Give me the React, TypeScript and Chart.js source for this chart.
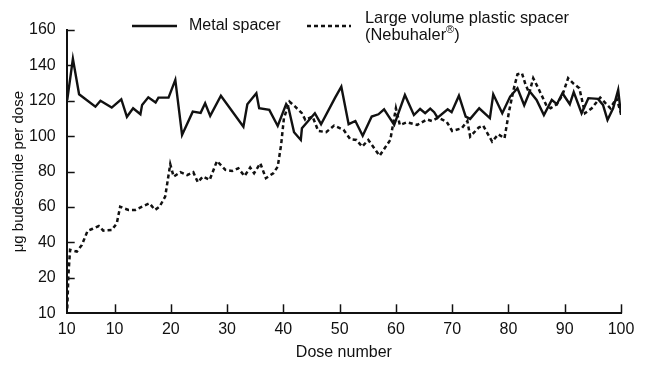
import { useEffect, useRef } from 'react';
import { Chart, registerables } from 'chart.js';

Chart.register(...registerables);

const FONT = "'Liberation Sans', Arial, Helvetica, sans-serif";
const INK = '#111111';

// Metal spacer: dose number and delivered budesonide (µg)
const metalDoses = [1.6, 2.6, 3.7, 6.6, 7.5, 9.5, 11.2, 12.2, 13.3, 14.6, 14.9, 16, 17.3, 17.8, 19.6, 20.8, 22, 23.9, 25.3, 26.1, 27, 28.9, 32.9, 33.6, 35.2, 35.7, 37.5, 39, 40.5, 40.9, 41.9, 43.1, 43.3, 45.6, 46.7, 49.2, 50.3, 51.6, 52.8, 54.1, 55.7, 56.9, 57.9, 59.7, 61.6, 63.2, 64.3, 65.2, 66.1, 66.8, 67.4, 69.2, 69.9, 71.2, 72.4, 73.2, 74.8, 76.7, 77.3, 78.9, 80.3, 81.6, 82.8, 83.8, 85, 86.3, 87.7, 88.6, 89.6, 90.9, 91.6, 93, 94.2, 95.9, 96.8, 97.6, 98.6, 99.5, 100];
const metalValues = [120.5, 143.7, 123.7, 116.7, 120, 116.2, 120.9, 111, 115.8, 112.4, 117.7, 122, 119, 121.8, 121.8, 131.8, 100.7, 113.9, 113.2, 118.6, 111.5, 122.9, 105.4, 118.1, 124.3, 115.8, 114.9, 105.8, 118.1, 116.2, 102.3, 97.9, 104.5, 113, 106.8, 121.8, 128, 106.8, 108.6, 100.3, 111.1, 112.4, 115.2, 106.4, 123.3, 112, 115.4, 113, 115.6, 113.6, 110.5, 115.2, 113.6, 122.9, 111.1, 109.8, 115.8, 110.2, 123.7, 113, 122.4, 127.1, 117.5, 125.2, 120.5, 112, 120.5, 118.1, 124.3, 118.1, 124.9, 113, 121.5, 121.1, 117.7, 109.2, 115.8, 126.2, 112];

// Large volume plastic spacer (Nebuhaler)
const nebuhalerDoses = [1.6, 1.8, 2.1, 3.3, 4.2, 5.2, 6, 7.2, 8, 9.5, 10.4, 11, 11.6, 12.5, 13.7, 14.9, 16.2, 17.2, 18, 19, 19.9, 20.5, 21.7, 22.9, 24, 24.8, 25.7, 26.9, 28.2, 29.7, 30.9, 32, 33.1, 34.1, 34.8, 35.9, 36.9, 38.2, 39, 39.6, 40.1, 41.1, 42.1, 43.3, 43.9, 45.2, 46.2, 47.6, 49, 50.7, 51.9, 53, 54, 55.1, 57.1, 59, 60, 60.7, 62, 63.8, 65.5, 66.4, 67.5, 69, 70, 71.7, 72.7, 73.2, 74.7, 75.5, 77.1, 78.2, 79.3, 80.1, 80.9, 81.6, 82.4, 83, 83.7, 84.4, 85.3, 86.7, 87.5, 88.6, 89.6, 90.6, 91.5, 92.6, 93.6, 94.8, 96.3, 97, 98.1, 99.2, 100];
const nebuhalerValues = [2.8, 21.6, 35.8, 34.8, 38.6, 46.5, 47.6, 49.3, 46.7, 47, 50.8, 60.2, 59.3, 58.4, 58.4, 60.2, 62.1, 58.4, 60.2, 65.9, 84.2, 77.2, 79.7, 78.1, 79.7, 74, 77.2, 75.3, 86, 81, 80.4, 81.9, 77.5, 82.3, 79.1, 84.7, 76.3, 79.1, 82.8, 95.1, 110.2, 119.5, 116.7, 113, 109.2, 111.1, 103, 102.3, 106, 103.6, 98.3, 97.9, 94.1, 97.9, 89, 97.9, 115.8, 106.4, 107.9, 106.4, 109.5, 108.6, 110.5, 108.3, 103, 104.5, 108.6, 99.8, 104.9, 106, 97, 101.1, 98.9, 113.9, 126.2, 135, 135.6, 129.5, 124.3, 132.8, 127.1, 117.7, 115.8, 118.1, 123.3, 132.8, 129.9, 127.1, 113, 115.8, 121.8, 119.5, 115.8, 121.5, 113];

// Axis ticks as printed on the figure
const xTickValues = [1.5, 10, 20, 30, 40, 50, 60, 70, 80, 90, 100];
const xTickLabels = ['10', '10', '20', '30', '40', '50', '60', '70', '80', '90', '100'];
const yTickValues = [0, 20, 40, 60, 80, 100, 120, 140, 160];
const yTickLabels = ['10', '20', '40', '60', '80', '100', '120', '140', '160'];

const seriesNames = ['Metal spacer', 'Large volume plastic spacer'];
const seriesNote = '(Nebuhaler\u00AE)';
const xTitle = 'Dose number';
const yTitle = '\u03BCg budesonide per dose';

const NEB_DASH = [4, 3];

// Short tick marks drawn inward from both axes
const inwardTicks = {
  id: 'inwardTicks',
  afterDraw(chart: any) {
    const { ctx, chartArea, scales } = chart;
    ctx.save();
    ctx.strokeStyle = INK;
    ctx.lineWidth = 1.5;
    xTickValues.slice(1).forEach((v) => {
      const px = Math.round(scales.x.getPixelForValue(v)) + 0.5;
      ctx.beginPath();
      ctx.moveTo(px, chartArea.bottom);
      ctx.lineTo(px, chartArea.bottom - 9);
      ctx.stroke();
    });
    yTickValues.slice(1).forEach((v) => {
      const py = Math.round(scales.y.getPixelForValue(v)) + 0.5;
      ctx.beginPath();
      ctx.moveTo(chartArea.left, py);
      ctx.lineTo(chartArea.left + 8, py);
      ctx.stroke();
    });
    ctx.restore();
  },
};

// Legend row above the plot, the second entry on two lines
const topLegend = {
  id: 'topLegend',
  afterDraw(chart: any) {
    const { ctx } = chart;
    ctx.save();
    ctx.fillStyle = INK;
    ctx.strokeStyle = INK;
    ctx.lineWidth = 2.4;
    ctx.textBaseline = 'middle';
    ctx.textAlign = 'left';
    ctx.font = `16px ${FONT}`;

    // solid sample
    ctx.beginPath();
    ctx.moveTo(132, 26);
    ctx.lineTo(177, 26);
    ctx.stroke();
    ctx.fillText(seriesNames[0], 189, 26);

    // dashed sample
    ctx.setLineDash(NEB_DASH);
    ctx.beginPath();
    ctx.moveTo(307, 26);
    ctx.lineTo(351, 26);
    ctx.stroke();
    ctx.setLineDash([]);
    ctx.font = `16.4px ${FONT}`;
    ctx.fillText(seriesNames[1], 365, 18);

    // second line with a raised registered mark
    const parts = seriesNote.split('\u00AE');
    let x = 365;
    ctx.fillText(parts[0], x, 35);
    x += ctx.measureText(parts[0]).width;
    ctx.font = `11px ${FONT}`;
    ctx.fillText('\u00AE', x, 30);
    x += ctx.measureText('\u00AE').width;
    ctx.font = `16.4px ${FONT}`;
    ctx.fillText(parts[1] || '', x, 35);
    ctx.restore();
  },
};

export default function App() {
  const canvasRef = useRef<HTMLCanvasElement | null>(null);

  useEffect(() => {
    document.body.style.margin = '0';
    const canvas = canvasRef.current;
    if (!canvas) return;

    const metalPoints = metalDoses.map((d, i) => ({ x: d, y: metalValues[i] }));
    const nebPoints = nebuhalerDoses.map((d, i) => ({ x: d, y: nebuhalerValues[i] }));

    const chart = new Chart(canvas, {
      type: 'line',
      data: {
        datasets: [
          {
            label: seriesNames[0],
            data: metalPoints,
            borderColor: INK,
            borderWidth: 2.4,
            pointRadius: 0,
            tension: 0,
            fill: false,
          },
          {
            label: seriesNames[1],
            data: nebPoints,
            borderColor: INK,
            borderWidth: 2.5,
            borderDash: NEB_DASH,
            pointRadius: 0,
            tension: 0,
            fill: false,
          },
        ],
      },
      options: {
        responsive: false,
        animation: false,
        devicePixelRatio: 1,
        layout: { padding: { left: 0, right: 28, top: 30, bottom: 0 } },
        plugins: {
          legend: { display: false },
          tooltip: { enabled: false },
        },
        scales: {
          x: {
            type: 'linear',
            min: xTickValues[0],
            max: xTickValues[xTickValues.length - 1],
            grid: { display: false, drawTicks: false },
            border: { display: true, color: INK, width: 2 },
            afterBuildTicks: (scale: any) => {
              scale.ticks = xTickValues.map((v) => ({ value: v }));
            },
            afterFit: (scale: any) => {
              scale.height = 51.7;
            },
            ticks: {
              autoSkip: false,
              maxRotation: 0,
              padding: 7,
              color: INK,
              font: { family: FONT, size: 16 },
              callback: (_v: any, i: number) => xTickLabels[i],
            },
            title: {
              display: true,
              text: xTitle,
              color: INK,
              font: { family: FONT, size: 16 },
              padding: { top: 0, bottom: 3 },
            },
          },
          y: {
            type: 'linear',
            min: yTickValues[0],
            max: yTickValues[yTickValues.length - 1],
            grid: { display: false, drawTicks: false },
            border: { display: true, color: INK, width: 2 },
            afterBuildTicks: (scale: any) => {
              scale.ticks = yTickValues.map((v) => ({ value: v }));
            },
            afterFit: (scale: any) => {
              scale.width = 66.7;
            },
            ticks: {
              autoSkip: false,
              padding: 11,
              color: INK,
              font: { family: FONT, size: 16 },
              callback: (_v: any, i: number) => yTickLabels[i],
            },
            title: {
              display: true,
              text: yTitle,
              color: INK,
              font: { family: FONT, size: 15 },
              padding: { top: 10, bottom: 0 },
            },
          },
        },
      },
      plugins: [inwardTicks, topLegend],
    });

    return () => {
      chart.destroy();
    };
  }, []);

  return (
    <div style={{ position: 'relative', width: 649, height: 365, background: '#fff' }}>
      <canvas ref={canvasRef} width={649} height={365} style={{ display: 'block' }} />
    </div>
  );
}
